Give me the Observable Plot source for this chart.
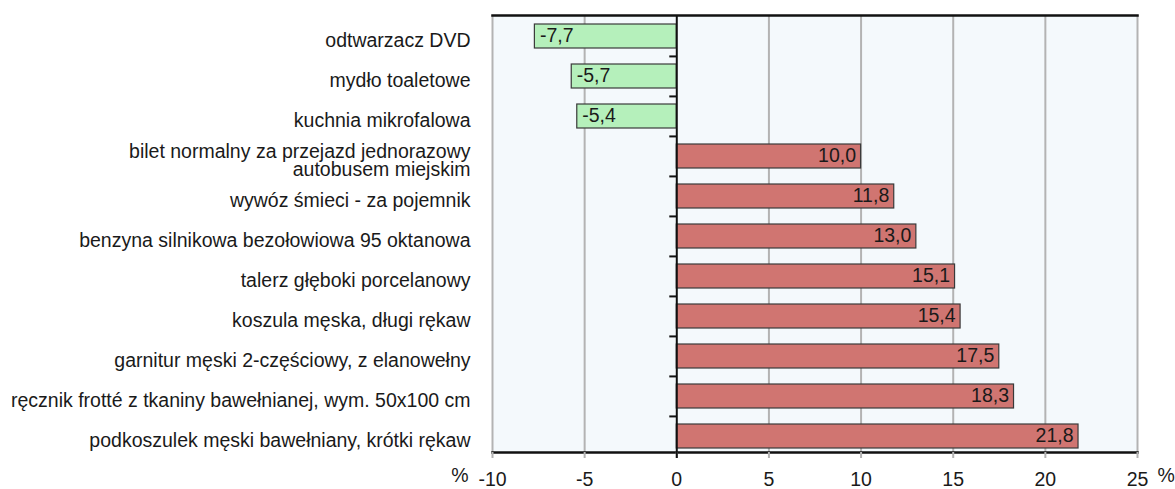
<!DOCTYPE html>
<html>
<head>
<meta charset="utf-8">
<script src="https://cdn.jsdelivr.net/npm/d3@7"></script>
<script src="https://cdn.jsdelivr.net/npm/@observablehq/plot@0.6"></script>
<style>
  html, body { margin: 0; padding: 0; background: #fff; }
  svg { font-family: "Liberation Sans", Arial, sans-serif; }
</style>
</head>
<body>
<div id="chart"></div>
<script>
const categories = [
  "odtwarzacz DVD",
  "mydło toaletowe",
  "kuchnia mikrofalowa",
  "bilet normalny za przejazd jednorazowy\nautobusem miejskim",
  "wywóz śmieci - za pojemnik",
  "benzyna silnikowa bezołowiowa 95 oktanowa",
  "talerz głęboki porcelanowy",
  "koszula męska, długi rękaw",
  "garnitur męski 2-częściowy, z elanowełny",
  "ręcznik frotté z tkaniny bawełnianej, wym. 50x100 cm",
  "podkoszulek męski bawełniany, krótki rękaw"
];
const values = [-7.7, -5.7, -5.4, 10.0, 11.8, 13.0, 15.1, 15.4, 17.5, 18.3, 21.8];
const xTicks = [-10, -5, 0, 5, 10, 15, 20, 25];
const gridTicks = [-10, -5, 5, 10, 15, 20, 25];
const unitLabel = "%";

const data = categories.map((c, i) => ({cat: c, value: values[i]}));
const negData = data.filter(d => d.value < 0);
const posData = data.filter(d => d.value >= 0);
const fmt = v => v.toFixed(1).replace(".", ",");

const W = 1175, H = 489;
const mT = 15, mB = 37, mL = 492, mR = 38;
const yRange = [15, 456.6];
const step = (yRange[1] - yRange[0]) / categories.length;
const FS = 19.5;

const chart = Plot.plot({
  width: W,
  height: H,
  marginTop: mT,
  marginBottom: mB,
  marginLeft: mL,
  marginRight: mR,
  style: {fontSize: FS + "px", fontFamily: "'Liberation Sans', Arial, sans-serif", color: "#1a1a1a", background: "#fff", overflow: "visible"},
  x: {domain: [-10, 25], ticks: xTicks},
  y: {domain: categories, range: yRange, paddingInner: 0.39, paddingOuter: 0.195},
  marks: [
    Plot.frame({fill: "#f4f9fc", stroke: "none"}),
    Plot.ruleX(gridTicks, {stroke: "#b3b3b3", strokeWidth: 2}),
    Plot.barX(data, {
      x: "value", y: "cat",
      fill: d => d.value < 0 ? "#b5f0bb" : "#d07571",
      stroke: "#3a3a3a", strokeWidth: 1.2
    }),
    Plot.ruleX([0], {stroke: "#111", strokeWidth: 2}),
    Plot.ruleY(data.slice(1), {y: "cat", x1: -0.38, x2: 0, dy: -step / 2, stroke: "#111", strokeWidth: 2}),
    Plot.frame({anchor: "top", stroke: "#111", strokeWidth: 2.5}),
    Plot.frame({anchor: "bottom", stroke: "#111", strokeWidth: 2.5}),
    Plot.axisX({
      ticks: xTicks, tickSize: 6, tickPadding: 14, stroke: "#b3b3b3", strokeWidth: 2,
      fill: "#1a1a1a", fontSize: FS, label: null, tickFormat: d => String(d)
    }),
    Plot.axisX({
      ticks: [0], tickSize: 6, stroke: "#111", strokeWidth: 2, tickFormat: () => "", label: null
    }),
    Plot.text([unitLabel], {x: () => -10, frameAnchor: "bottom", dx: -24, dy: 29, textAnchor: "end", fontSize: FS, fill: "#1a1a1a"}),
    Plot.text([unitLabel], {x: () => 25, frameAnchor: "bottom", dx: 20, dy: 29, textAnchor: "start", fontSize: FS, fill: "#1a1a1a"}),
    Plot.axisY({
      tickSize: 0, tickPadding: 22, dy: 5, fontSize: FS, label: null, fill: "#1a1a1a", lineHeight: 0.89
    }),
    Plot.text(posData, {
      x: "value", y: "cat", text: d => fmt(d.value),
      textAnchor: "end", dx: -5, dy: -1, fontSize: FS, fill: "#1a1a1a"
    }),
    Plot.text(negData, {
      x: "value", y: "cat", text: d => fmt(d.value),
      textAnchor: "start", dx: 5, dy: -1, fontSize: FS, fill: "#1a1a1a"
    })
  ]
});
document.getElementById("chart").appendChild(chart);
</script>
</body>
</html>
